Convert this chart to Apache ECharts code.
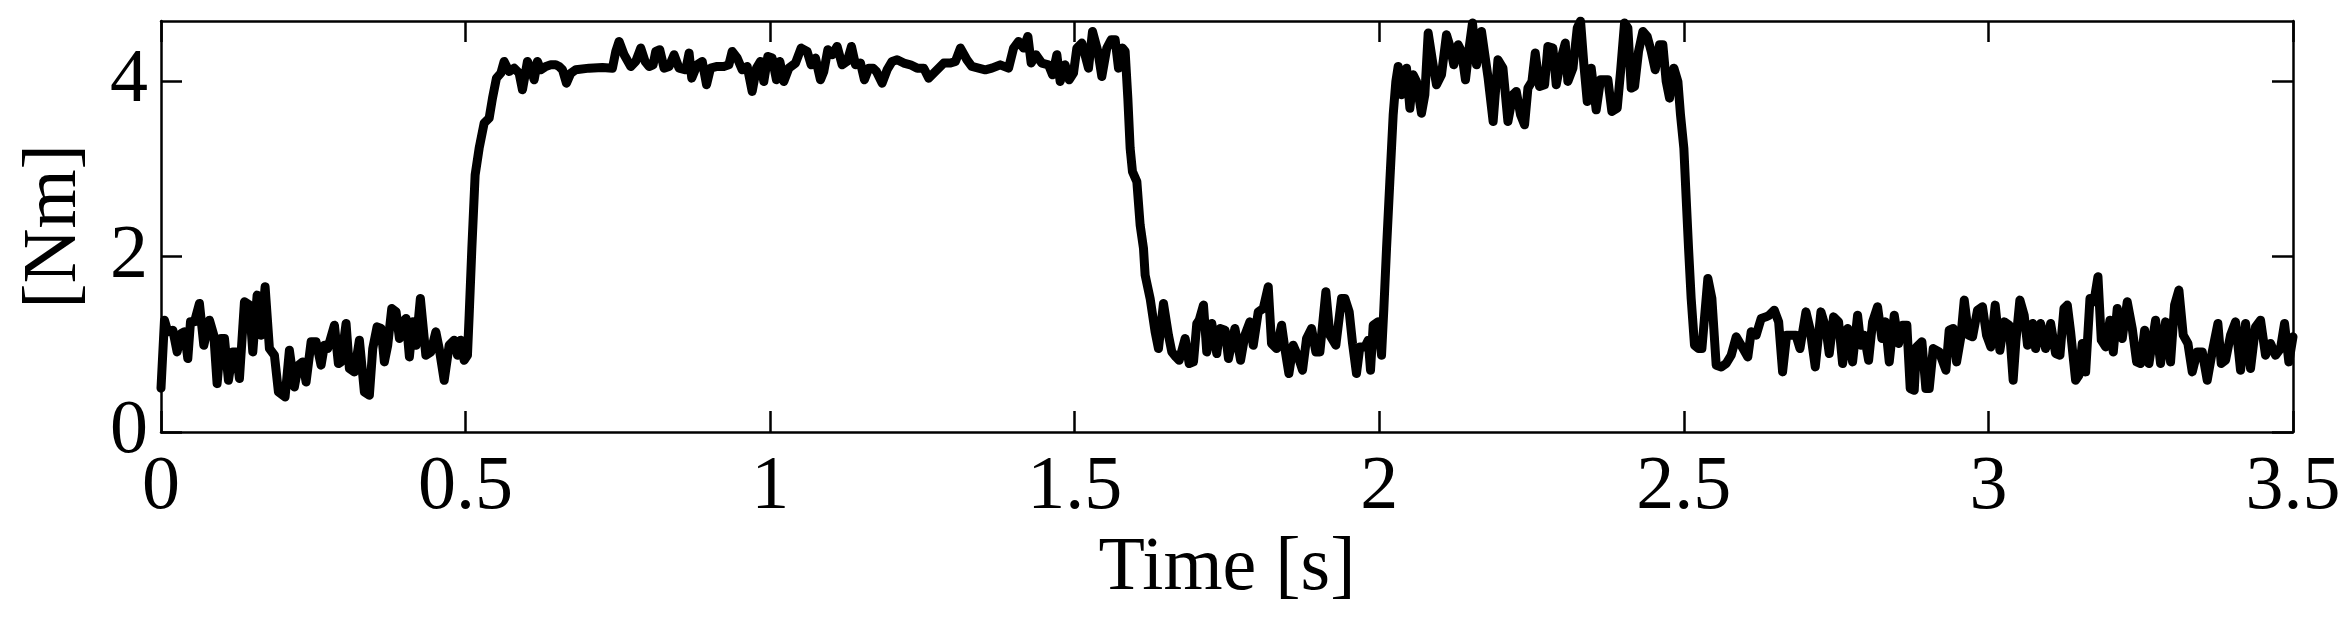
<!DOCTYPE html>
<html><head><meta charset="utf-8">
<script src="https://cdn.jsdelivr.net/npm/echarts@6/dist/echarts.min.js"></script>
<style>html,body{margin:0;padding:0;background:#fff}#c{width:2345px;height:619px}</style>
</head><body><div id="c"></div>
<script>
const xTicks = [0, 0.5, 1, 1.5, 2, 2.5, 3, 3.5];
const yTicks = [0, 2, 4];
const xName = 'Time [s]';
const yName = '[Nm]';

const time = [
0,0.0057,0.0112,0.0194,0.0265,0.0331,0.0385,0.0440,0.0484,0.0549,0.0631,0.0703,0.0796,0.0867,0.0921,0.0987,0.1042,0.1107,0.1178,0.1233,0.1288,0.1370,0.1452,0.1507,0.1578,0.1643,0.1709,0.1780,0.1862,0.1928,0.2037,0.2108,0.2190,0.2256,0.2327,0.2382,0.2464,0.2546,0.2628,0.2683,0.2737,0.2847,0.2912,0.2956,0.3038,0.3093,0.3175,0.3257,0.3339,0.3421,0.3476,0.3547,0.3613,0.3667,0.3722,0.3788,0.3859,0.3914,0.3968,0.4023,0.4078,0.4133,0.4187,0.4258,
0.4348,0.4430,0.4512,0.4567,0.4649,0.4731,0.4813,0.4867,0.4922,0.4977,0.5031,0.5059,0.5103,0.5157,0.5223,0.5305,0.5387,0.5442,0.5507,0.5579,0.5633,0.5715,0.5797,0.5879,0.5934,0.6016,0.6071,0.6126,0.6180,0.6235,0.6317,0.6399,0.6481,0.6536,0.6591,0.6656,0.6727,0.6809,0.7028,0.7247,0.7411,0.7466,0.7520,0.7603,0.7712,0.7794,0.7876,0.7947,0.8013,0.8078,0.8122,0.8188,0.8259,0.8341,0.8423,0.8505,0.8614,0.8669,0.8713,
0.8802,0.8885,0.8956,0.9021,0.9131,0.9240,0.9322,0.9377,0.9459,0.9541,0.9623,0.9705,0.9776,0.9842,0.9896,0.9962,1.0033,1.0104,1.0159,1.0225,1.0307,1.0416,1.0509,1.0608,1.0673,1.0744,1.0826,1.0881,1.0947,1.1018,1.1100,1.1182,1.1264,1.1335,1.1401,1.1483,1.1548,1.1619,1.1690,1.1745,1.1838,1.1920,1.2002,1.2084,1.2194,1.2303,1.2413,1.2522,1.2604,1.2686,1.2768,1.2850,1.2960,1.3042,1.3124,
1.3230,1.3312,1.3421,1.3531,1.3640,1.3777,1.3914,1.3996,1.4078,1.4160,1.4231,1.4285,1.4362,1.4460,1.4570,1.4636,1.4707,1.4761,1.4843,1.4909,1.4980,1.5035,1.5117,1.5183,1.5226,1.5292,1.5380,1.5445,1.5527,1.5598,1.5664,1.5719,1.5784,1.5828,1.5872,1.5910,1.5948,1.6020,1.6074,1.6129,1.6156,1.6238,1.6320,1.6375,1.6457,1.6539,1.6594,1.6660,1.6715,1.6769,1.6813,1.6879,1.6950,1.7004,1.7043,1.7114,1.7168,1.7250,1.7332,1.7387,1.7469,1.7524,
1.7630,1.7723,1.7794,1.7876,1.7931,1.8013,1.8095,1.8177,1.8231,1.8314,1.8396,1.8450,1.8516,1.8587,1.8669,1.8740,1.8806,1.8888,1.8959,1.9025,1.9123,1.9189,1.9287,1.9380,1.9435,1.9506,1.9561,1.9626,1.9681,1.9763,1.9818,1.9856,1.9900,1.9982,2.0037,2.0075,2.0119,2.0173,2.0228,2.0272,2.0310,2.0365,2.0447,2.0502,2.0556,2.0611,2.0693,2.0748,2.0803,2.0874,2.0939,2.1021,2.1103,2.1169,2.1224,2.1295,2.1350,2.1415,2.1475,2.1530,2.1596,2.1678,2.1732,2.1787,2.1869,
2.1948,2.2030,2.2112,2.2194,2.2249,2.2320,2.2385,2.2440,2.2506,2.2560,2.2631,2.2714,2.2768,2.2850,2.2905,2.2987,2.3053,2.3096,2.3179,2.3250,2.3304,2.3359,2.3414,2.3479,2.3561,2.3632,2.3753,2.3818,2.3906,2.3961,2.4026,2.4081,2.4136,2.4191,2.4256,2.4327,2.4398,2.4464,2.4530,2.4601,2.4655,2.4710,2.4765,2.4836,2.4902,2.4945,2.5000,2.5038,2.5077,2.5120,2.5175,2.5241,2.5296,2.5394,2.5460,2.5531,2.5613,2.5695,2.5777,2.5859,2.5941,2.6050,2.6105,2.6187,2.6269,2.6351,
2.6402,2.6484,2.6556,2.6621,2.6687,2.6758,2.6840,2.6906,2.7004,2.7070,2.7157,2.7250,2.7332,2.7387,2.7458,2.7540,2.7606,2.7688,2.7770,2.7852,2.7907,2.7962,2.8033,2.8098,2.8180,2.8251,2.8306,2.8372,2.8454,2.8525,2.8590,2.8661,2.8716,2.8782,2.8820,2.8908,2.8973,2.9028,2.9094,2.9192,2.9302,2.9356,2.9422,2.9477,2.9548,2.9603,2.9674,2.9739,2.9821,2.9903,2.9969,3.0040,3.0111,3.0188,3.0259,3.0341,3.0406,3.0450,3.0516,3.0587,3.0642,3.0724,
3.0775,3.0857,3.0939,3.1021,3.1103,3.1174,3.1240,3.1295,3.1349,3.1431,3.1486,3.1541,3.1596,3.1667,3.1732,3.1798,3.1853,3.1924,3.1995,3.2050,3.2115,3.2197,3.2279,3.2361,3.2433,3.2498,3.2564,3.2635,3.2744,3.2826,3.2908,3.2990,3.3056,3.3127,3.3198,3.3275,3.3346,3.3428,3.3510,3.3592,3.3674,3.3767,3.3822,3.3893,3.3975,3.4057,3.4139,3.4221,3.4303,3.4385,3.4467,3.4549,3.4631,3.4713,3.4795,3.4861,3.4932,3.5000
];

const torque = [
0.50,1.276,1.143,1.162,0.914,1.124,1.143,0.838,1.257,1.257,1.467,0.990,1.276,1.105,0.552,1.067,1.067,0.590,0.914,0.914,0.610,1.486,1.448,0.914,1.562,1.105,1.657,0.952,0.876,0.457,0.400,0.933,0.514,0.762,0.800,0.571,1.029,1.029,0.762,0.990,0.952,1.219,0.781,0.800,1.238,0.724,0.686,1.048,0.457,0.419,0.952,1.200,1.181,0.800,0.990,1.410,1.371,1.067,1.257,1.295,0.857,1.257,0.990,1.524,
0.876,0.914,1.143,0.952,0.590,0.990,1.048,0.876,1.048,0.819,0.876,1.333,2.095,2.933,3.238,3.524,3.581,3.810,4.038,4.095,4.229,4.114,4.152,4.095,3.905,4.229,4.152,4.019,4.229,4.133,4.171,4.190,4.190,4.171,4.133,3.981,4.095,4.133,4.152,4.160,4.152,4.343,4.457,4.305,4.171,4.229,4.381,4.229,4.171,4.190,4.343,4.362,4.152,4.171,4.305,4.152,4.133,4.324,4.038,
4.190,4.229,3.962,4.152,4.171,4.171,4.190,4.343,4.267,4.133,4.171,3.886,4.152,4.229,4.000,4.286,4.267,4.019,4.229,4.000,4.152,4.210,4.381,4.343,4.190,4.267,4.019,4.114,4.362,4.305,4.400,4.190,4.229,4.400,4.190,4.210,4.019,4.152,4.152,4.114,3.981,4.133,4.229,4.248,4.210,4.190,4.152,4.152,4.038,4.095,4.152,4.210,4.210,4.229,4.381,
4.248,4.171,4.152,4.133,4.152,4.190,4.152,4.381,4.457,4.381,4.514,4.210,4.305,4.210,4.190,4.076,4.305,4.000,4.190,4.019,4.095,4.381,4.438,4.267,4.152,4.571,4.343,4.057,4.381,4.476,4.476,4.152,4.381,4.343,3.810,3.238,2.971,2.857,2.362,2.095,1.790,1.524,1.143,0.952,1.467,1.105,0.914,0.857,0.819,0.952,1.067,0.781,0.800,1.238,1.276,1.448,0.914,1.238,0.895,1.181,1.162,0.838,
1.181,0.819,1.105,1.257,0.990,1.371,1.410,1.657,1.010,0.952,1.219,0.952,0.667,0.990,0.857,0.705,1.067,1.181,0.914,0.914,1.600,1.105,0.990,1.524,1.524,1.371,1.010,0.667,0.971,0.971,1.048,0.705,1.219,1.257,0.876,1.410,2.095,2.857,3.619,4.000,4.171,3.848,4.152,3.695,4.076,4.000,3.638,3.848,4.552,4.229,3.962,4.076,4.533,4.381,4.190,4.419,4.343,4.019,4.381,4.667,4.190,4.571,4.305,4.038,3.543,
4.248,4.152,3.543,3.848,3.886,3.619,3.505,3.924,4.000,4.324,3.943,3.962,4.400,4.381,3.962,4.267,4.438,4.000,4.152,4.610,4.690,4.190,3.771,4.152,3.676,4.019,4.019,3.657,3.695,4.114,4.667,4.610,3.924,3.943,4.343,4.571,4.514,4.343,4.133,4.419,4.419,4.000,3.810,4.152,4.000,3.619,3.238,2.667,2.095,1.524,0.990,0.952,0.952,1.752,1.524,0.762,0.743,0.781,0.876,1.086,0.990,0.857,1.143,1.105,1.295,1.314,
1.333,1.390,1.257,0.686,1.105,1.105,1.105,0.952,1.371,1.181,0.743,1.371,1.181,0.895,1.314,1.257,0.781,1.181,0.800,1.333,0.990,1.105,0.819,1.257,1.429,1.067,1.257,0.800,1.333,1.010,1.219,1.219,0.495,0.476,0.971,1.029,0.495,0.495,0.952,0.914,0.705,1.162,1.181,0.800,1.086,1.505,1.105,1.086,1.390,1.429,1.105,0.971,1.448,0.933,1.257,1.219,0.590,1.029,1.505,1.333,0.990,1.238,
0.952,1.238,0.952,1.238,0.895,0.876,1.410,1.448,1.143,0.590,0.648,1.010,0.686,1.524,1.486,1.771,1.048,0.971,1.276,0.914,1.410,1.067,1.486,1.181,0.800,0.781,1.162,0.781,1.276,0.781,1.257,0.800,1.448,1.619,1.105,1.010,0.686,0.914,0.914,0.590,0.914,1.238,0.781,0.819,1.105,1.257,0.705,1.238,0.724,1.200,1.276,0.876,1.010,0.876,0.952,1.238,0.800,1.086
];

const points = time.map((t, i) => [t, torque[i]]);

const FONT = '"Liberation Serif", "Times New Roman", serif';
const black = '#000';

const chart = echarts.init(document.getElementById('c'), null, {renderer: 'canvas'});
const axisLineStyle = {show: true, onZero: false, lineStyle: {color: black, width: 2.5}};
const tickStyle = {show: true, inside: true, length: 21, lineStyle: {color: black, width: 2.5}};

chart.setOption({
  animation: false,
  backgroundColor: '#fff',
  grid: {left: 161, right: 52, top: 21, bottom: 187, containLabel: false},
  xAxis: [{
    type: 'value', min: 0, max: 3.5, interval: 0.5, position: 'bottom',
    axisLine: axisLineStyle,
    axisTick: Object.assign({}, tickStyle, {customValues: xTicks}),
    axisLabel: {customValues: xTicks, fontFamily: FONT, fontSize: 76, color: black, margin: 18},
    splitLine: {show: false},
    name: xName, nameLocation: 'middle', nameGap: 92,
    nameTextStyle: {fontFamily: FONT, fontSize: 76, color: black}
  }, {
    type: 'value', min: 0, max: 3.5, interval: 0.5, position: 'top',
    axisLine: axisLineStyle,
    axisTick: Object.assign({}, tickStyle, {customValues: xTicks}),
    axisLabel: {show: false},
    splitLine: {show: false}
  }],
  yAxis: [{
    type: 'value', min: 0, max: 4.69, interval: 2, position: 'left',
    axisLine: axisLineStyle,
    axisTick: Object.assign({}, tickStyle, {customValues: yTicks}),
    axisLabel: {customValues: yTicks, fontFamily: FONT, fontSize: 76, color: black, margin: 13},
    splitLine: {show: false},
    name: yName, nameLocation: 'middle', nameRotate: 90, nameGap: 68,
    nameTextStyle: {fontFamily: FONT, fontSize: 76, color: black}
  }, {
    type: 'value', min: 0, max: 4.69, interval: 2, position: 'right',
    axisLine: axisLineStyle,
    axisTick: Object.assign({}, tickStyle, {customValues: yTicks}),
    axisLabel: {show: false},
    splitLine: {show: false}
  }],
  series: [{
    type: 'line', xAxisIndex: 0, yAxisIndex: 0,
    data: points, showSymbol: false, symbol: 'none', smooth: false,
    lineStyle: {color: black, width: 9, join: 'round', cap: 'round'},
    clip: true
  }]
});
</script>
</body></html>
